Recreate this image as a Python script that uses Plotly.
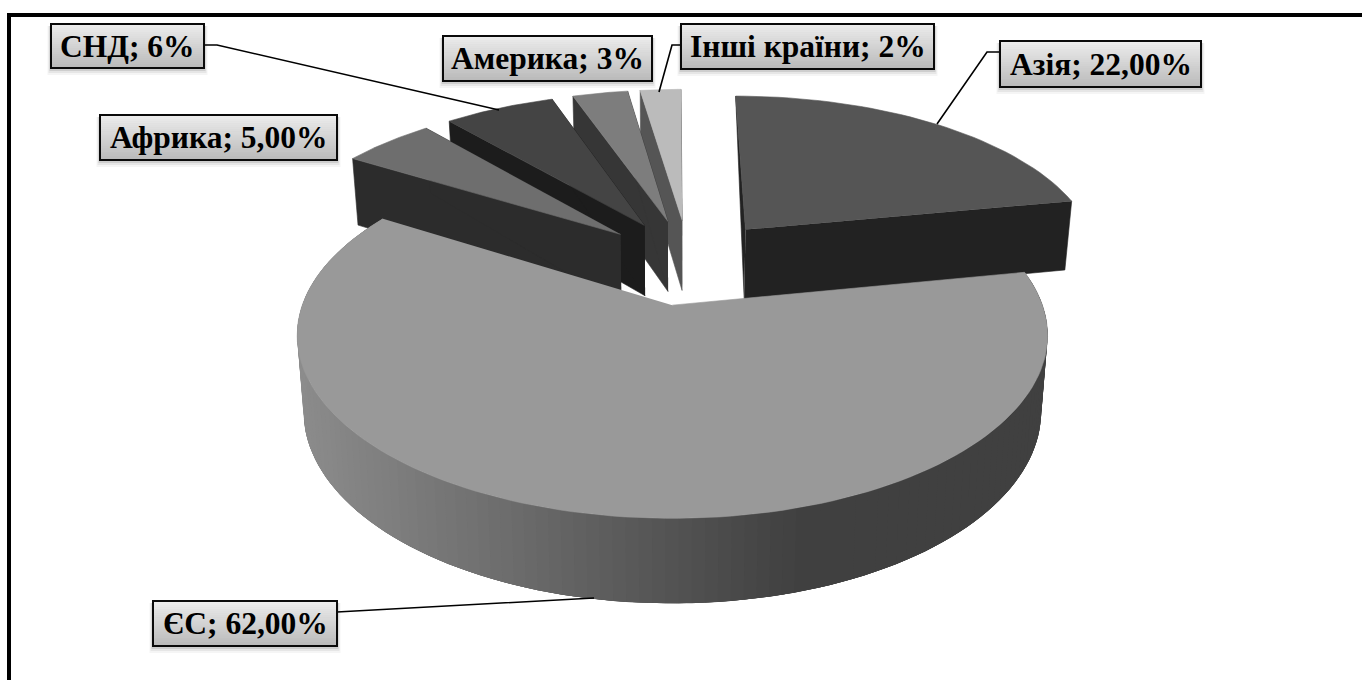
import numpy as np
import plotly.graph_objects as go

# ---- data ----
categories = ["Азія", "ЄС", "Африка", "СНД", "Америка", "Інші країни"]
values = [22, 62, 5, 6, 3, 2.2]
value_texts = ["22,00%", "62,00%", "5,00%", "6%", "3%", "2%"]

# ---- styles ----
top_colors = ["#555555", "#999999", "#6e6e6e", "#444444", "#7d7d7d", "#bbbbbb"]
side_colors = ["#222222", None, "#2c2c2c", "#1c1c1c", "#363636", "#555555"]
boxes = [(1000, 41, 1201, 87), (153, 601, 337, 646), (100, 115, 337, 160),
         (51, 24, 204, 68), (443, 36, 652, 81), (681, 24, 934, 69)]
leaders = [[(1000, 52), (987, 52), (937, 124)],
           [(337, 612), (355, 611), (594, 598)],
           None,
           [(204, 45), (217, 45), (499, 110)],
           None,
           [(681, 45), (672, 45), (659, 92)]]

# ---- projection of the tilted disc ----
XC, YC, BX, AY, K = 672.0, 305.0, 370.0, 178.0, 0.165
H, K2, SHRINK = 74.4, 0.125, 0.983
CENTER = np.array([0.048, -0.255])
EXPLODE = 0.26


def project(X, Y, bottom=False):
    X, Y = np.asarray(X, float), np.asarray(Y, float)
    w = 1 - K * Y
    sx = XC + BX * X / w
    sy = YC + AY * Y / w
    if bottom:
        sx = XC + (sx - XC) * SHRINK
        sy = sy + H / (1 - K2 * Y)
    return sx, sy


def direction(a):
    return np.sin(a), -np.cos(a)


def gray(x):
    g = int(round(np.interp(x, [297, 800], [0x8c, 0x40])))
    return f"rgb({g},{g},{g})"


fig = go.Figure()


def poly(xs, ys, color, width=0.6):
    fig.add_trace(go.Scatter(
        x=np.asarray(xs), y=np.asarray(ys), mode="lines", fill="toself",
        fillcolor=color, line=dict(color=color, width=width),
        hoverinfo="skip", showlegend=False))


total = sum(values)
edges = np.cumsum([0] + values) / total * 2 * np.pi
for i in [5, 4, 3, 2, 0, 1]:
    a0, a1 = edges[i], edges[i + 1]
    dx, dy = direction((a0 + a1) / 2)
    ax, ay = CENTER[0] + EXPLODE * dx, CENTER[1] + EXPLODE * dy
    n_arc = 130 if side_colors[i] is None else 40
    t = np.linspace(a0, a1, n_arc)
    ox, oy = direction(t)
    X, Y = ax + ox, ay + oy
    tx, ty = project(X, Y)
    bx, by = project(X, Y, True)
    px, py = project(ax, ay)
    qx, qy = project(ax, ay, True)
    if side_colors[i] is not None:
        if i == 0:
            poly([px, tx[0], qx], [py, ty[0], qy], side_colors[i])
        else:
            poly([px, tx[0], bx[0], qx], [py, ty[0], by[0], qy], side_colors[i])
        poly([px, tx[-1], bx[-1], qx], [py, ty[-1], by[-1], qy], side_colors[i])
    else:
        # the rim runs from right to left; each strip overlaps the next one
        poly(np.r_[tx, bx[::-1]], np.r_[ty, by[::-1]], gray(672), 0)
        for j in range(len(t) - 1):
            k = min(j + 3, len(t) - 1)
            poly(np.r_[tx[j:k + 1], bx[j:k + 1][::-1]],
                 np.r_[ty[j:k + 1], by[j:k + 1][::-1]],
                 gray((tx[j] + tx[j + 1]) / 2), 0)
    poly(np.r_[px, tx], np.r_[py, ty], top_colors[i])

shapes = []
# frame (only its top and left sides fall inside the picture)
shapes.append(dict(type="rect", x0=7, x1=11, y0=13, y1=680, line_width=0, fillcolor="black"))
shapes.append(dict(type="rect", x0=7, x1=1362, y0=13, y1=17, line_width=0, fillcolor="black"))

annotations = []
for i, (x0, y0, x1, y1) in enumerate(boxes):
    if leaders[i]:
        path = "M" + " L".join(f"{x},{y}" for x, y in leaders[i])
        shapes.append(dict(type="path", path=path, line=dict(color="black", width=1.6)))
    for off, alpha in ((7, 0.04), (5, 0.06), (3, 0.10)):
        shapes.append(dict(type="rect", x0=x0 - off / 2, x1=x1 + off / 2, y0=y0 + 2, y1=y1 + off,
                           line_width=0, fillcolor=f"rgba(0,0,0,{alpha})"))
    n = 22
    ysteps = np.linspace(y0, y1, n + 1)
    for j in range(n):
        g = int(round(np.interp(j, [0, n - 1], [0xec, 0xba])))
        shapes.append(dict(type="rect", x0=x0, x1=x1, y0=ysteps[j], y1=ysteps[j + 1] + 0.5,
                           line_width=0, fillcolor=f"rgb({g},{g},{g})"))
    shapes.append(dict(type="rect", x0=x0, x1=x1, y0=y0, y1=y1, line=dict(color="#0a0a0a", width=2)))
    annotations.append(dict(x=(x0 + x1) / 2, y=(y0 + y1) / 2, xref="x", yref="y", showarrow=False,
                            text=f"<b>{categories[i]}; {value_texts[i]}</b>",
                            font=dict(family="Liberation Serif", size=31.5, color="black")))

fig.update_layout(
    width=1362, height=680, margin=dict(l=0, r=0, t=0, b=0),
    paper_bgcolor="white", plot_bgcolor="white", showlegend=False,
    xaxis=dict(range=[0, 1362], visible=False, fixedrange=True),
    yaxis=dict(range=[680, 0], visible=False, fixedrange=True),
    shapes=shapes, annotations=annotations,
)
fig.write_html("out.html", config=dict(displayModeBar=False),
               post_script="document.body.style.margin='0';document.body.style.overflow='hidden';")
